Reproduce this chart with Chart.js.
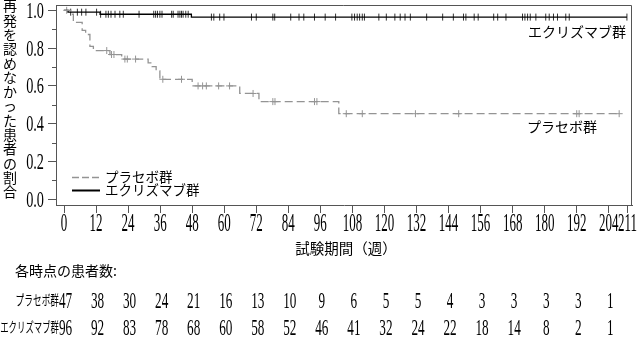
<!DOCTYPE html>
<html>
<head>
<meta charset="utf-8">
<script src="https://cdn.jsdelivr.net/npm/chart.js@4.4.0/dist/chart.umd.min.js"></script>
<style>
  html, body { margin: 0; padding: 0; background: #fff; }
</style>
</head>
<body>
<canvas id="kmChart" width="637" height="343"></canvas>
<script>
// Axis ticks
const weekTicks = [0, 12, 24, 36, 48, 60, 72, 84, 96, 108, 120, 132, 144, 156, 168, 180, 192, 204, 211];
const survTicks = [0, 0.2, 0.4, 0.6, 0.8, 1.0];
const survMinorTicks = [0.1, 0.3, 0.5, 0.7, 0.9];

// Placebo KM curve (event week, survival after event)
const placeboEventWeeks = [2.5, 3.5, 6.8, 8.1, 9.7, 11.0, 17.2, 21.6, 31.5, 33.0, 34.5, 35.9, 48.0, 65.8, 73.0, 102.9];
const placeboSurv = [0.979, 0.936, 0.894, 0.872, 0.809, 0.787, 0.766, 0.742, 0.722, 0.702, 0.680, 0.635, 0.600, 0.560, 0.517, 0.453];
const placeboCensorWeeks = [1.0, 16.0, 17.8, 18.7, 22.8, 23.7, 26.8, 37.0, 44.0, 50.2, 51.9, 53.3, 57.9, 62.0, 70.8,
  78.2, 79.0, 93.8, 94.7, 105.7, 111.7, 131.6, 147.8, 192.0, 192.9, 207.9];
const placeboLastWeek = 207.9;

// Eculizumab KM curve
const ecuEventWeeks = [1.5, 13.5, 47.7];
const ecuSurv = [0.990, 0.979, 0.964];
const ecuCensorWeeks = [2.5, 5.0, 6.6, 8.2, 12.2, 13.7, 15.7, 16.6, 17.6, 19.1, 20.9, 22.2, 28.1, 33.6, 34.3, 35.0,
  35.9, 36.7, 40.3, 40.9, 42.7, 43.4, 44.0, 44.6, 45.6, 46.5, 55.2, 56.1, 58.3, 59.9, 70.2, 72.0, 78.2, 78.9, 84.9,
  88.0, 89.8, 93.8, 97.8, 101.7, 107.8, 108.8, 109.8, 110.7, 111.7, 112.5, 117.9, 120.7, 123.9, 125.9, 127.7, 129.7,
  135.8, 141.8, 145.8, 149.6, 150.5, 153.6, 155.1, 160.9, 162.4, 165.5, 171.7, 172.6, 173.6, 174.6, 176.7, 180.4,
  181.7, 183.3, 184.8, 187.9, 189.2, 210.8];
const ecuLastWeek = 210.8;

// Number at risk
const riskWeeks = [0, 12, 24, 36, 48, 60, 72, 84, 96, 108, 120, 132, 144, 156, 168, 180, 192, 204];
const placeboAtRisk = [47, 38, 30, 24, 21, 16, 13, 10, 9, 6, 5, 5, 4, 3, 3, 3, 3, 1];
const ecuAtRisk = [96, 92, 83, 78, 68, 60, 58, 52, 46, 41, 32, 24, 22, 18, 14, 8, 2, 1];

const placeboName = 'プラセボ群';
const ecuName = 'エクリズマブ群';

const PLACEBO_COLOR = '#949494';
const ECU_COLOR = '#000000';
const AXIS_COLOR = '#555555';
const JP_FONT = '"Noto Sans CJK JP", sans-serif';
const NUM_FONT = '"Liberation Serif", serif';

function kmPoints(weeks, surv, lastWeek) {
    const pts = [{ x: 0, y: 1 }];
    weeks.forEach((w, i) => pts.push({ x: w, y: surv[i] }));
    pts.push({ x: lastWeek, y: surv[surv.length - 1] });
    return pts;
}

function survAt(t, weeks, surv) {
    let s = 1;
    weeks.forEach((w, i) => { if (w <= t) s = surv[i]; });
    return s;
}

// Draw text squeezed horizontally (the original uses narrow glyphs)
function drawText(ctx, text, x, y, font, sx, align, baseline) {
    ctx.save();
    ctx.font = font;
    ctx.textBaseline = baseline || 'alphabetic';
    ctx.textAlign = 'left';
    const w = ctx.measureText(text).width * sx;
    const left = align === 'center' ? x - w / 2 : align === 'right' ? x - w : x;
    ctx.translate(left, y);
    ctx.scale(sx, 1);
    ctx.fillStyle = '#000';
    ctx.fillText(text, 0, 0);
    ctx.restore();
}

const decorPlugin = {
    id: 'decor',
    afterDraw(chart) {
        const { ctx, chartArea: a, scales: { x, y } } = chart;

        // Top and right frame + minor y ticks
        ctx.save();
        ctx.strokeStyle = AXIS_COLOR;
        ctx.lineWidth = 1;
        ctx.beginPath();
        ctx.moveTo(a.left, a.top + 0.5);
        ctx.lineTo(a.right - 0.5, a.top + 0.5);
        ctx.lineTo(a.right - 0.5, a.bottom);
        survMinorTicks.forEach(v => {
            const py = Math.round(y.getPixelForValue(v)) + 0.5;
            ctx.moveTo(a.left - 4, py);
            ctx.lineTo(a.left, py);
        });
        ctx.stroke();
        ctx.restore();

        // Tick labels
        weekTicks.forEach(v => {
            drawText(ctx, String(v), x.getPixelForValue(v), 231, '25px ' + NUM_FONT, 0.52, 'center');
        });
        survTicks.forEach(v => {
            drawText(ctx, v.toFixed(1), 44, y.getPixelForValue(v) + 7.5, '23px ' + NUM_FONT, 0.62, 'right');
        });

        // Y title, stacked vertically
        const yTitle = '再発を認めなかった患者の割合';
        [...yTitle].forEach((ch, i) => {
            drawText(ctx, ch, 10, 6 + i * 14.3, '14px ' + JP_FONT, 1, 'center', 'middle');
        });

        // X title
        drawText(ctx, '試験期間（週）', 346, 248, '14.5px ' + JP_FONT, 1, 'center', 'middle');

        // Legend inside plot
        ctx.save();
        ctx.lineWidth = 1.5;
        ctx.strokeStyle = PLACEBO_COLOR;
        ctx.setLineDash([7, 3]);
        ctx.beginPath();
        ctx.moveTo(72, 177.5);
        ctx.lineTo(100, 177.5);
        ctx.stroke();
        ctx.setLineDash([]);
        ctx.strokeStyle = ECU_COLOR;
        ctx.lineWidth = 2;
        ctx.beginPath();
        ctx.moveTo(72, 190.5);
        ctx.lineTo(100, 190.5);
        ctx.stroke();
        ctx.restore();
        drawText(ctx, placeboName, 105, 177, '13.5px ' + JP_FONT, 1, 'left', 'middle');
        drawText(ctx, ecuName, 105, 190, '13.5px ' + JP_FONT, 1, 'left', 'middle');

        // Curve labels
        drawText(ctx, ecuName, 626, 32, '14px ' + JP_FONT, 1, 'right', 'middle');
        drawText(ctx, placeboName, 597, 127, '14px ' + JP_FONT, 1, 'right', 'middle');

        // Number at risk table
        drawText(ctx, '各時点の患者数:', 15, 271, '14px ' + JP_FONT, 1, 'left', 'middle');
        drawText(ctx, placeboName, 59, 300, '14px ' + JP_FONT, 0.62, 'right', 'middle');
        drawText(ctx, ecuName, 59, 327, '14px ' + JP_FONT, 0.6, 'right', 'middle');
        riskWeeks.forEach((w, i) => {
            const px = x.getPixelForValue(w) + 1.5;
            drawText(ctx, String(placeboAtRisk[i]), px, 308, '24px ' + NUM_FONT, 0.55, 'center');
            drawText(ctx, String(ecuAtRisk[i]), px, 335, '24px ' + NUM_FONT, 0.55, 'center');
        });
    }
};

const ctx = document.getElementById('kmChart').getContext('2d');
new Chart(ctx, {
    type: 'scatter',
    data: {
        datasets: [
            {
                label: placeboName,
                data: kmPoints(placeboEventWeeks, placeboSurv, placeboLastWeek),
                showLine: true,
                stepped: 'before',
                borderColor: PLACEBO_COLOR,
                borderWidth: 1.3,
                borderDash: [8, 4],
                pointRadius: 0
            },
            {
                label: ecuName,
                data: kmPoints(ecuEventWeeks, ecuSurv, ecuLastWeek),
                showLine: true,
                stepped: 'before',
                borderColor: ECU_COLOR,
                borderWidth: 1.3,
                pointRadius: 0
            },
            {
                label: placeboName + ' censored',
                data: placeboCensorWeeks.map(w => ({ x: w, y: survAt(w, placeboEventWeeks, placeboSurv) })),
                showLine: false,
                pointStyle: 'cross',
                pointRadius: 3.5,
                borderWidth: 1,
                borderColor: PLACEBO_COLOR
            },
            {
                label: ecuName + ' censored',
                data: ecuCensorWeeks.map(w => ({ x: w, y: survAt(w, ecuEventWeeks, ecuSurv) })),
                showLine: false,
                pointStyle: 'line',
                rotation: 90,
                pointRadius: 3.5,
                borderWidth: 1,
                borderColor: '#333'
            }
        ]
    },
    options: {
        responsive: false,
        animation: false,
        layout: { padding: { top: 2, right: 4, left: 0, bottom: 0 } },
        plugins: { legend: { display: false }, tooltip: { enabled: false } },
        scales: {
            x: {
                type: 'linear',
                min: -3,
                max: 212.7,
                afterBuildTicks: s => { s.ticks = weekTicks.map(v => ({ value: v })); },
                afterFit: s => { s.height = 138; },
                ticks: { display: false },
                grid: { drawOnChartArea: false, drawTicks: true, tickLength: 8, tickColor: AXIS_COLOR },
                border: { display: true, color: AXIS_COLOR }
            },
            y: {
                min: -0.03,
                max: 1.028,
                afterBuildTicks: s => { s.ticks = survTicks.map(v => ({ value: v })); },
                afterFit: s => { s.width = 56; },
                ticks: { display: false },
                grid: { drawOnChartArea: false, drawTicks: true, tickLength: 8, tickColor: AXIS_COLOR },
                border: { display: true, color: AXIS_COLOR }
            }
        }
    },
    plugins: [decorPlugin]
});
</script>
</body>
</html>
